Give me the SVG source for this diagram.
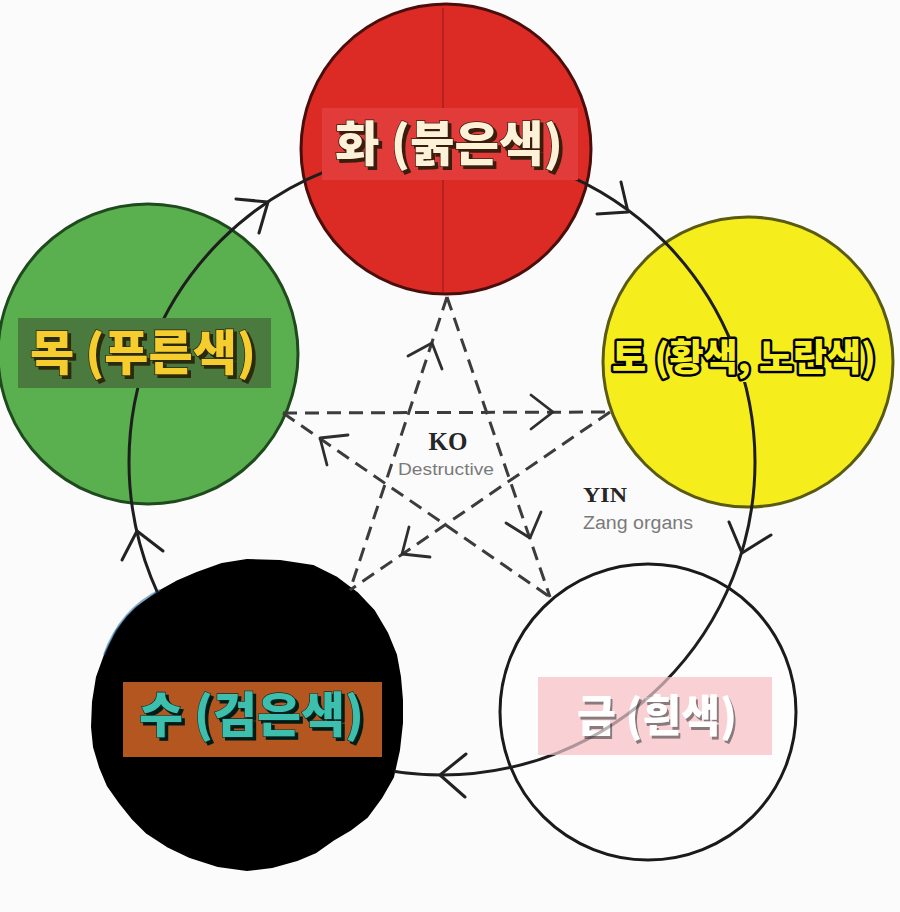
<svg xmlns="http://www.w3.org/2000/svg" width="900" height="912" viewBox="0 0 900 912">
<style>
.lbl{font-family:"Noto Sans CJK KR","Noto Sans",sans-serif;font-weight:900;}
.cyc{fill:none;stroke:#1e1e1e;stroke-width:3;stroke-linecap:round;}
.chev{fill:none;stroke:#222;stroke-width:3;stroke-linecap:round;stroke-linejoin:round;}
.dash{fill:none;stroke:#3c3c3c;stroke-width:3;stroke-dasharray:14 8;}
.schev{fill:none;stroke:#2e2e2e;stroke-width:2.8;stroke-linecap:round;stroke-linejoin:round;}
.ser{font-family:"Liberation Serif",serif;font-weight:bold;fill:#262626;}
.sans{font-family:"Liberation Sans",sans-serif;fill:#7a7a7a;}
</style>
<defs>
<filter id="shBrown" x="-10%" y="-30%" width="130%" height="160%"><feDropShadow dx="3" dy="3" stdDeviation="0.3" flood-color="#3a1a10" flood-opacity="1"/></filter>
<filter id="shOlive" x="-10%" y="-30%" width="130%" height="160%"><feDropShadow dx="3" dy="3" stdDeviation="0.3" flood-color="#2b2a10" flood-opacity="1"/></filter>
<filter id="shBlack" x="-10%" y="-30%" width="130%" height="160%"><feDropShadow dx="3" dy="3" stdDeviation="0.3" flood-color="#061a18" flood-opacity="1"/></filter>
<filter id="shGray" x="-10%" y="-30%" width="130%" height="160%"><feDropShadow dx="2" dy="3" stdDeviation="0.5" flood-color="#8a7a7c" flood-opacity="1"/></filter>
<path id="blob" d="M247,560 L280,561 L313,566 L337,578 L357,593 L374,611 L387,633 L396,655 L400,677 L402,700 L402,723 L399,750 L393,777 L381,798 L367,817 L350,830 L333,840 L316,852 L297,860 L272,867 L247,870 L218,866 L190,857 L167,846 L147,833 L132,818 L120,803 L108,786 L100,767 L94,747 L92,727 L93,702 L97,677 L106,652 L117,630 L127,617 L137,607 L158,592 L176,582 L197,573 L222,564 Z"/>
<mask id="arcmask" maskUnits="userSpaceOnUse" x="0" y="0" width="900" height="912">
<rect width="900" height="912" fill="#fff"/>
<rect x="322" y="108" width="256" height="72" fill="#000"/>
<rect x="18" y="318" width="253" height="70" fill="#000"/>
<use href="#blob" fill="#000"/>
<rect x="538" y="677" width="234" height="78" fill="#555"/>
<rect x="722" y="338" width="30" height="44" fill="#000"/>
</mask>
</defs>
<rect width="900" height="912" fill="#fbfbfb"/>

<g id="node-fire">
<circle cx="446" cy="149" r="145" fill="#dc2a24" stroke="#4a0f0d" stroke-width="3"/>
<line x1="443" y1="8" x2="443" y2="292" stroke="#6a1410" stroke-width="2" opacity="0.35"/>
<rect x="322" y="108" width="256" height="72" fill="#e23c3a"/>
<text class="lbl" x="335" y="161" font-size="48" textLength="228" lengthAdjust="spacingAndGlyphs" fill="#fdf2d8" stroke="#3a1a10" stroke-width="1.5" paint-order="stroke" filter="url(#shBrown)">화 (붉은색)</text>
</g>

<g id="node-earth">
<circle cx="748" cy="362" r="145" fill="#f5ee1c" stroke="#5a5a10" stroke-width="3"/>
<text class="lbl" x="744" y="371" font-size="37" text-anchor="middle" fill="#f7f020" stroke="#000" stroke-width="5" stroke-linejoin="round" paint-order="stroke">토 (황색, 노란색)</text>
</g>

<g id="node-metal">
<circle cx="648" cy="712" r="148" fill="#fdfdfd" stroke="#1a1a1a" stroke-width="3"/>
<rect x="538" y="677" width="234" height="78" fill="#f9cdd1" opacity="0.92"/>
<text class="lbl" x="577" y="732" font-size="44" textLength="160" lengthAdjust="spacingAndGlyphs" fill="#ffffff" filter="url(#shGray)">금 (흰색)</text>
</g>

<g id="node-wood">
<circle cx="148" cy="354" r="150" fill="#5aaf4e" stroke="#1e4a1e" stroke-width="3"/>
<rect x="18" y="318" width="253" height="70" fill="#4b7a3e"/>
<text class="lbl" x="30" y="370" font-size="48" textLength="226" lengthAdjust="spacingAndGlyphs" fill="#f6cd2e" stroke="#2b2a10" stroke-width="1.5" paint-order="stroke" filter="url(#shOlive)">목 (푸른색)</text>
</g>

<g id="node-water">
<use href="#blob" fill="#000" stroke="#000" stroke-width="2" stroke-linejoin="round"/>
<path d="M104,655 Q120,610 160,590" fill="none" stroke="#3a78a8" stroke-width="2" opacity="0.6"/>
<rect x="123" y="682" width="259" height="75" fill="#b4561f"/>
<text class="lbl" x="139" y="732" font-size="48" textLength="225" lengthAdjust="spacingAndGlyphs" fill="#3cbfae" stroke="#0a2a28" stroke-width="1.2" paint-order="stroke" filter="url(#shBlack)">수 (검은색)</text>
</g>

<g id="connectors">
<circle class="cyc" cx="442" cy="462" r="313" mask="url(#arcmask)"/>
<polyline class="chev" points="236,199 268,202 259,233"/>
<polyline class="chev" points="621,182 628,212 597,214"/>
<polyline class="chev" points="771,535 742,553 729,522"/>
<polyline class="chev" points="465,797 440,775 466,754"/>
<polyline class="chev" points="122,560 137,531 163,551"/>

<line class="dash" x1="447" y1="297" x2="350" y2="590"/>
<line class="dash" x1="447" y1="297" x2="550" y2="597"/>
<line class="dash" x1="283" y1="413" x2="610" y2="412"/>
<line class="dash" x1="283" y1="413" x2="550" y2="597"/>
<line class="dash" x1="610" y1="412" x2="350" y2="590"/>
<polyline class="schev" points="408,356 432,343 442,369"/>
<polyline class="schev" points="531,395 553,412 531,429"/>
<polyline class="schev" points="430,557 402,554 409,527"/>
<polyline class="schev" points="541,512 530,538 506,523"/>
<polyline class="schev" points="327,465 320,438 348,435"/>
</g>

<g id="labels">
<text class="ser" x="448" y="450" font-size="25" text-anchor="middle">KO</text>
<text class="sans" x="398" y="475" font-size="17" textLength="96" lengthAdjust="spacingAndGlyphs">Destructive</text>
<text class="ser" x="583" y="502" font-size="22" textLength="44" lengthAdjust="spacingAndGlyphs">YIN</text>
<text class="sans" x="583" y="529" font-size="18" textLength="110" lengthAdjust="spacingAndGlyphs">Zang organs</text>
</g>
</svg>
